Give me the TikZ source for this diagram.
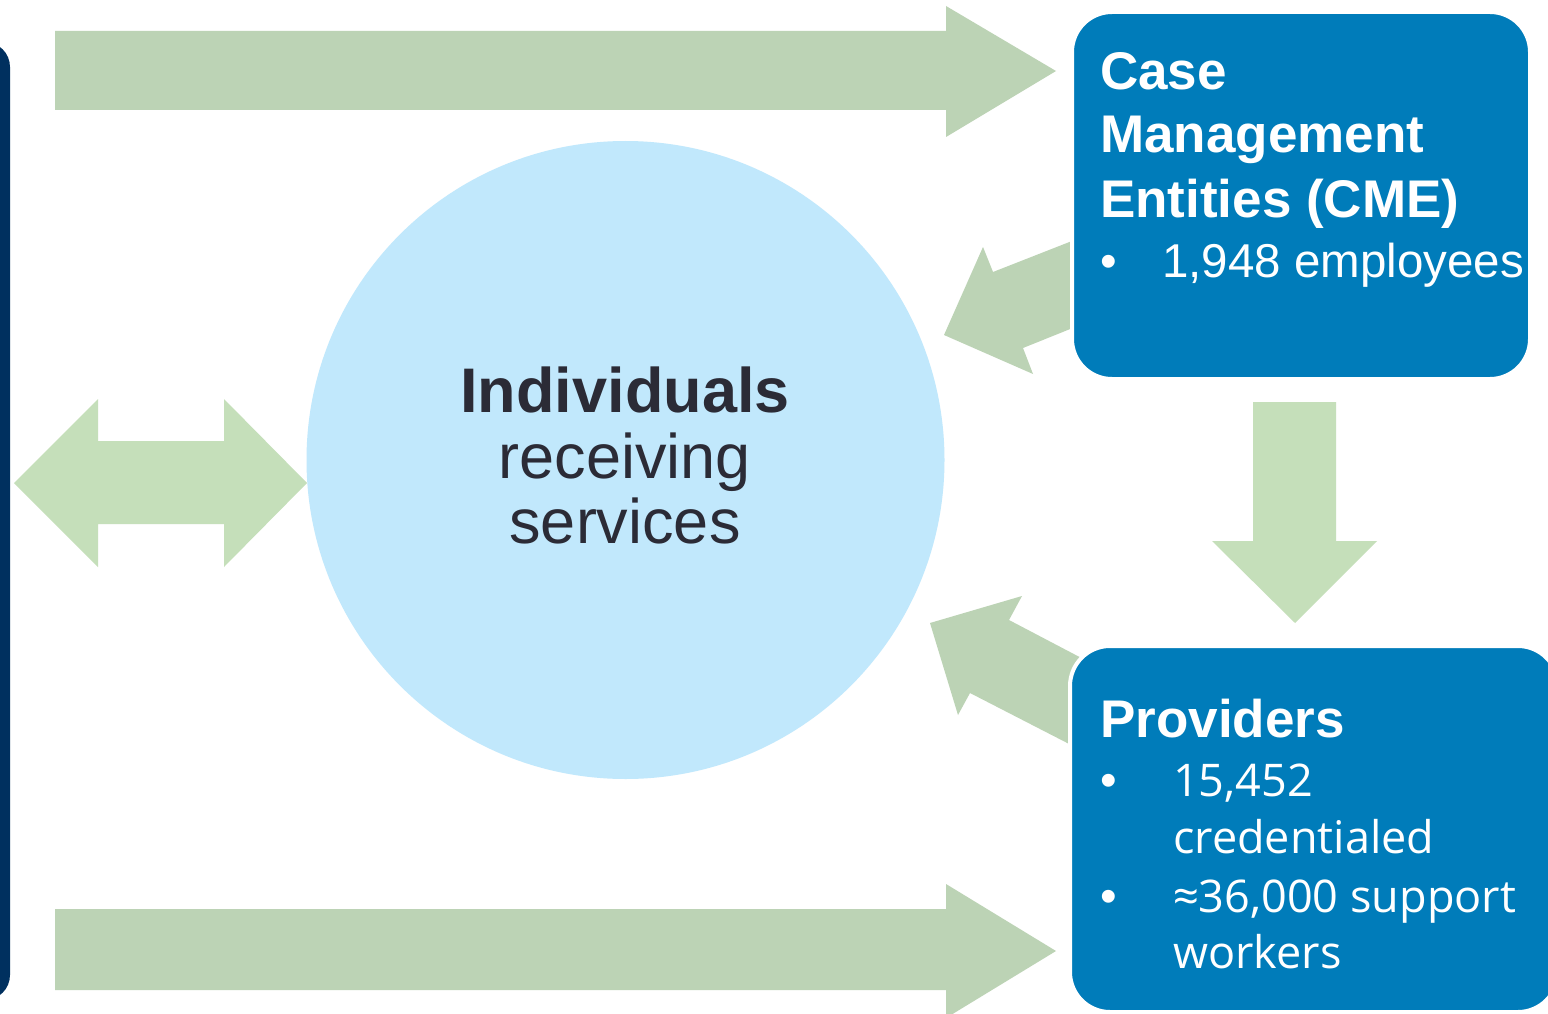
\documentclass[tikz,border=0pt]{standalone}
\usepackage{fontspec}
\setmainfont{Liberation Sans}
\newfontfamily\osans{Open Sans}
\definecolor{navy}{HTML}{00305F}
\definecolor{arrowgreen}{HTML}{BCD3B5}
\definecolor{lightgreen}{HTML}{C5DFBA}
\definecolor{circleblue}{HTML}{C1E8FC}
\definecolor{boxblue}{HTML}{007CBA}
\definecolor{darktext}{HTML}{2B2B36}
\tikzset{
  bluebox/.style={rectangle, rounded corners=40pt, fill=boxblue, draw=white, line width=4pt, inner sep=0pt},
  boxtext/.style={anchor=base west, inner sep=0pt, text=white},
  circtext/.style={anchor=base, inner sep=0pt, text=darktext},
  garrow/.style={fill=arrowgreen, draw=none},
  larrow/.style={fill=lightgreen, draw=none},
  headfont/.style={font=\fontsize{53}{60}\selectfont\bfseries},
  itemfont/.style={font=\fontsize{47.5}{54}\selectfont},
  provfont/.style={font=\fontsize{45}{54}\selectfont\osans},
}
\begin{document}
\begin{tikzpicture}[x=1pt,y=-1pt]
\useasboundingbox (0,0) rectangle (1548,1014);
\fill[white] (0,0) rectangle (1548,1014);
% left navy panel
\fill[navy, rounded corners=25pt] (-60,42) rectangle (10,1000);
% circle
\node[circle, fill=circleblue, minimum size=638pt, inner sep=0pt] (ind) at (625.5,460) {};
% horizontal arrows
\fill[garrow] (55,31) -- (946,31) -- (946,6) -- (1056,71) -- (946,137) -- (946,110) -- (55,110) -- cycle;
\fill[garrow] (55,909) -- (946,909) -- (946,884) -- (1056,951) -- (946,1018) -- (946,990) -- (55,990) -- cycle;
% double arrow
\fill[larrow] (14,483) -- (98,399) -- (98,441) -- (224,441) -- (224,399) -- (307,483) -- (224,567) -- (224,524) -- (98,524) -- (98,567) -- cycle;
% down arrow
\fill[larrow] (1253,402) -- (1336,402) -- (1336,541) -- (1377,541) -- (1295,623) -- (1212,541) -- (1253,541) -- cycle;
% diagonal arrows
\fill[garrow] (944,335) -- (983,247) -- (993,272) -- (1100,230) -- (1100,317) -- (1023,348) -- (1033,374) -- cycle;
\fill[garrow] (930,623) -- (1022,596) -- (1009,620) -- (1110,673) -- (1110,765) -- (970,693) -- (958,715) -- cycle;
% boxes
\node[bluebox, minimum width=458pt, minimum height=367pt] (cme) at (1301,195.5) {};
\node[bluebox, minimum width=488pt, minimum height=366pt] (prov) at (1314,829) {};
% CME text
\node[boxtext, headfont] (cme1) at (1100,90) {Case};
\node[boxtext, headfont] (cme2) at (1100,153) {Management};
\node[boxtext, headfont] (cme3) at (1100,217) {Entities (CME)};
\node[boxtext, itemfont] (cmeb) at (1100,277) {•};
\node[boxtext, itemfont] (cme4) at (1162,277) {1,948 employees};
% Providers text
\node[boxtext, headfont] (prov1) at (1100,737) {Providers};
\node[boxtext, itemfont] (provb1) at (1100,796) {•};
\node[boxtext, provfont] (prov2) at (1173,796) {15,452};
\node[boxtext, provfont] (prov3) at (1173,853) {credentialed};
\node[boxtext, itemfont] (provb2) at (1100,912) {•};
\node[boxtext, provfont] (prov4) at (1173,912) {≈36,000 support};
\node[boxtext, provfont] (prov5) at (1173,968) {workers};
% circle text
\node[circtext, font=\fontsize{63}{70}\selectfont\bfseries] (ind1) at (625,412) {Individuals};
\node[circtext, font=\fontsize{63}{70}\selectfont] (ind2) at (625,478) {receiving};
\node[circtext, font=\fontsize{63}{70}\selectfont] (ind3) at (625,543) {services};
\end{tikzpicture}
\end{document}
